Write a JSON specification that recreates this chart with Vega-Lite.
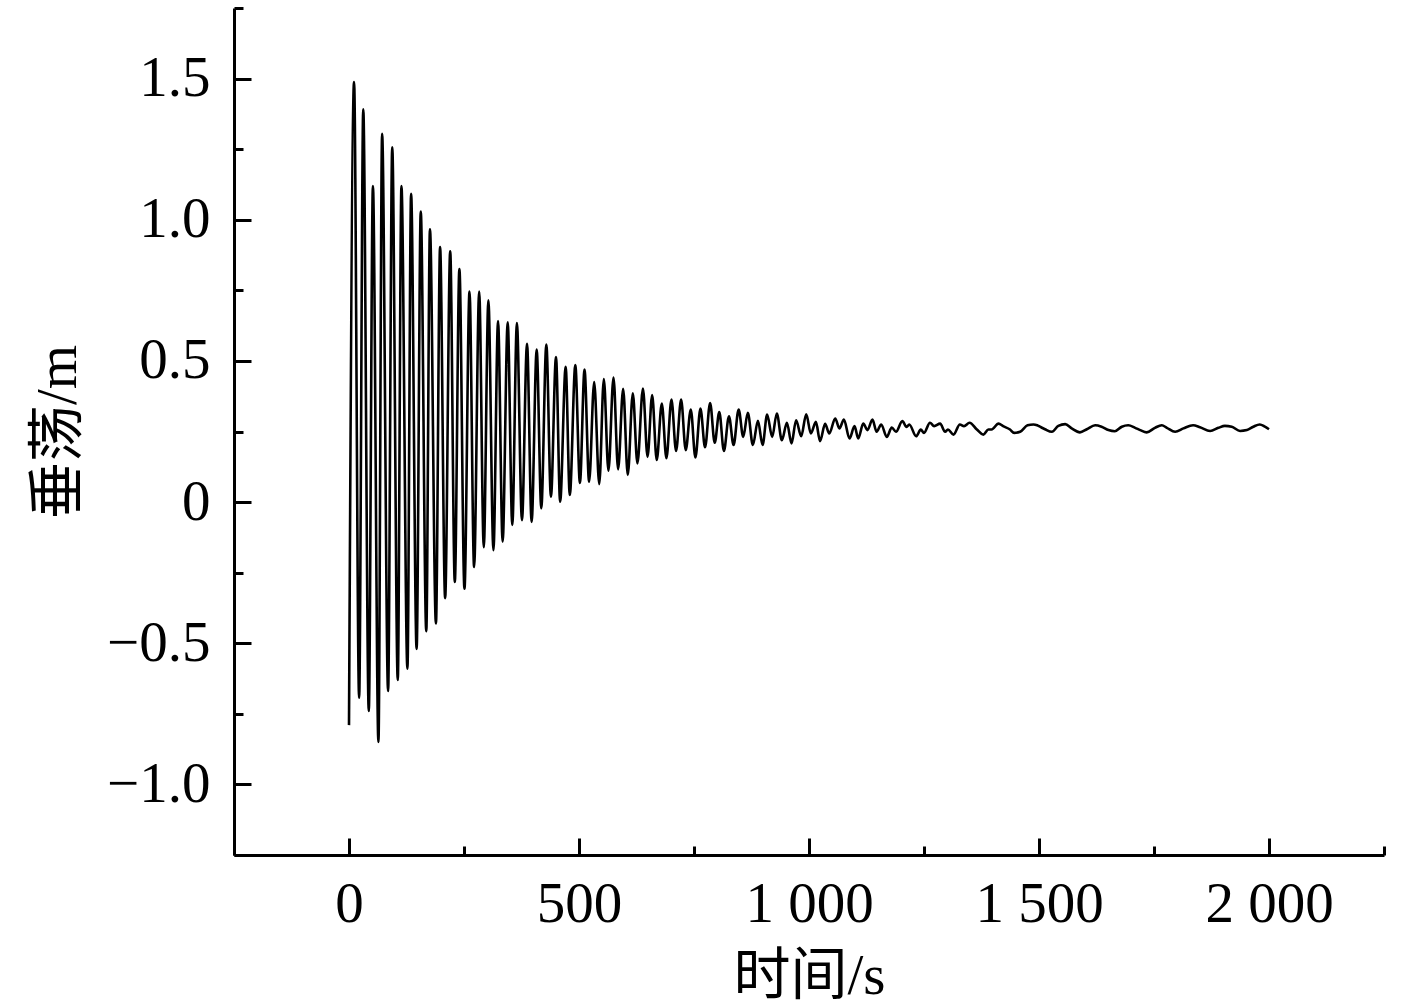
{
  "$schema": "https://vega.github.io/schema/vega-lite/v6.json",
  "width": 1150,
  "height": 847,
  "autosize": "none",
  "padding": {"left": 234, "top": 8, "right": 33, "bottom": 149},
  "background": "white",
  "config": {"view": {"stroke": null}, "axis": {"grid": false}},
  "data": {"values": [
    {"t":0,"v":-0.79},{"t":11,"v":1.488},{"t":22,"v":-0.693},{"t":31,"v":1.391},{"t":43,"v":-0.74},{"t":52,"v":1.119},{"t":64,"v":-0.85},{"t":72,"v":1.304},{"t":85,"v":-0.669},{"t":94,"v":1.257},
    {"t":106,"v":-0.63},{"t":114,"v":1.119},{"t":127,"v":-0.59},{"t":135,"v":1.092},{"t":147,"v":-0.52},{"t":156,"v":1.029},{"t":168,"v":-0.457},{"t":176,"v":0.966},{"t":189,"v":-0.43},{"t":198,"v":0.903},
    {"t":209,"v":-0.34},{"t":220,"v":0.888},{"t":230,"v":-0.283},{"t":240,"v":0.825},{"t":251,"v":-0.307},{"t":262,"v":0.746},{"t":272,"v":-0.23},{"t":283,"v":0.746},{"t":293,"v":-0.16},{"t":303,"v":0.715},
    {"t":314,"v":-0.17},{"t":324,"v":0.641},{"t":334,"v":-0.14},{"t":345,"v":0.637},{"t":355,"v":-0.081},{"t":365,"v":0.634},{"t":376,"v":-0.064},{"t":387,"v":0.561},{"t":397,"v":-0.07},{"t":408,"v":0.54},
    {"t":418,"v":-0.022},{"t":429,"v":0.558},{"t":439,"v":0.019},{"t":450,"v":0.514},{"t":459,"v":0.001},{"t":471,"v":0.479},{"t":480,"v":0.025},{"t":492,"v":0.485},{"t":502,"v":0.068},{"t":512,"v":0.469},
    {"t":522,"v":0.072},{"t":533,"v":0.425},{"t":544,"v":0.064},{"t":554,"v":0.436},{"t":564,"v":0.111},{"t":575,"v":0.441},{"t":585,"v":0.116},{"t":596,"v":0.401},{"t":606,"v":0.096},{"t":617,"v":0.385},
    {"t":627,"v":0.137},{"t":639,"v":0.402},{"t":649,"v":0.16},{"t":659,"v":0.379},{"t":669,"v":0.149},{"t":680,"v":0.349},{"t":690,"v":0.155},{"t":701,"v":0.363},{"t":711,"v":0.181},{"t":722,"v":0.363},
    {"t":732,"v":0.184},{"t":743,"v":0.328},{"t":753,"v":0.158},{"t":764,"v":0.331},{"t":774,"v":0.194},{"t":785,"v":0.351},{"t":795,"v":0.21},{"t":805,"v":0.319},{"t":815,"v":0.181},{"t":826,"v":0.304},
    {"t":836,"v":0.202},{"t":847,"v":0.328},{"t":857,"v":0.231},{"t":867,"v":0.316},{"t":878,"v":0.202},{"t":889,"v":0.288},{"t":899,"v":0.202},{"t":909,"v":0.31},{"t":920,"v":0.231},{"t":930,"v":0.314},
    {"t":941,"v":0.219},{"t":952,"v":0.281},{"t":962,"v":0.208},{"t":972,"v":0.29},{"t":983,"v":0.233},{"t":994,"v":0.311},{"t":1004,"v":0.243},{"t":1015,"v":0.284},{"t":1024,"v":0.216},{"t":1035,"v":0.277},
    {"t":1044,"v":0.243},{"t":1057,"v":0.296},{"t":1066,"v":0.261},{"t":1076,"v":0.292},{"t":1088,"v":0.225},{"t":1099,"v":0.269},{"t":1107,"v":0.225},{"t":1118,"v":0.278},{"t":1127,"v":0.255},{"t":1138,"v":0.292},
    {"t":1147,"v":0.249},{"t":1157,"v":0.275},{"t":1169,"v":0.231},{"t":1180,"v":0.264},{"t":1189,"v":0.249},{"t":1203,"v":0.287},{"t":1212,"v":0.266},{"t":1218,"v":0.275},{"t":1233,"v":0.233},{"t":1243,"v":0.257},
    {"t":1250,"v":0.245},{"t":1263,"v":0.281},{"t":1272,"v":0.269},{"t":1285,"v":0.278},{"t":1296,"v":0.249},{"t":1302,"v":0.257},{"t":1314,"v":0.239},{"t":1328,"v":0.275},{"t":1337,"v":0.269},{"t":1349,"v":0.281},
    {"t":1365,"v":0.257},{"t":1379,"v":0.239},{"t":1390,"v":0.257},{"t":1397,"v":0.257},{"t":1412,"v":0.278},{"t":1422,"v":0.269},{"t":1437,"v":0.257},{"t":1446,"v":0.245},{"t":1459,"v":0.249},{"t":1475,"v":0.272},
    {"t":1488,"v":0.275},{"t":1496,"v":0.272},{"t":1502,"v":0.267},{"t":1513,"v":0.258},{"t":1528,"v":0.249},{"t":1542,"v":0.27},{"t":1557,"v":0.276},{"t":1571,"v":0.261},{"t":1589,"v":0.247},{"t":1604,"v":0.258},
    {"t":1622,"v":0.272},{"t":1636,"v":0.267},{"t":1651,"v":0.255},{"t":1665,"v":0.251},{"t":1680,"v":0.267},{"t":1694,"v":0.272},{"t":1709,"v":0.263},{"t":1720,"v":0.255},{"t":1734,"v":0.247},{"t":1752,"v":0.263},
    {"t":1767,"v":0.272},{"t":1778,"v":0.263},{"t":1796,"v":0.249},{"t":1814,"v":0.261},{"t":1835,"v":0.272},{"t":1850,"v":0.265},{"t":1872,"v":0.252},{"t":1890,"v":0.263},{"t":1904,"v":0.27},{"t":1919,"v":0.267},
    {"t":1937,"v":0.252},{"t":1952,"v":0.255},{"t":1966,"v":0.267},{"t":1980,"v":0.275},{"t":1991,"v":0.267},{"t":2000,"v":0.258}
  ]},
  "layer": [
    {
      "mark": {"type": "line", "color": "black", "strokeWidth": 2.6, "interpolate": "monotone"},
      "encoding": {
        "x": {
          "field": "t", "type": "quantitative",
          "scale": {"domain": [-250, 2250], "nice": false, "zero": false},
          "axis": {
            "orient": "bottom", "values": [0, 500, 1000, 1500, 2000], "title": "时间/s",
            "tickSize": -17, "tickWidth": 3, "tickColor": "black",
            "domainWidth": 3, "domainColor": "black",
            "labelFont": "Liberation Serif", "labelFontSize": 57, "labelColor": "black",
            "labelPadding": 38, "labelFlush": false, "labelOverlap": false,
            "labelExpr": "replace(format(datum.value, ','), ',', ' ')",
            "titleFont": "Liberation Serif, Noto Sans CJK SC", "titleFontSize": 57, "titleFontWeight": "normal",
            "titleColor": "black", "titlePadding": 16
          }
        },
        "y": {
          "field": "v", "type": "quantitative",
          "scale": {"domain": [-1.25, 1.75], "nice": false, "zero": false},
          "axis": {
            "orient": "left", "values": [-1, -0.5, 0, 0.5, 1, 1.5], "title": "垂荡/m",
            "tickSize": -17, "tickWidth": 3, "tickColor": "black",
            "domainWidth": 3, "domainColor": "black",
            "labelFont": "Liberation Serif", "labelFontSize": 57, "labelColor": "black",
            "labelPadding": 41, "labelFlush": false, "labelOverlap": false,
            "labelExpr": "datum.value == 0 ? '0' : format(datum.value, '.1f')",
            "titleFont": "Liberation Serif, Noto Sans CJK SC", "titleFontSize": 57, "titleFontWeight": "normal",
            "titleColor": "black", "titlePadding": 19
          }
        }
      }
    },
    {
      "mark": {"type": "line", "opacity": 0},
      "encoding": {
        "x": {
          "field": "t", "type": "quantitative",
          "axis": {
            "orient": "bottom", "values": [-250, 250, 750, 1250, 1750, 2250], "title": null,
            "labels": false, "domain": false,
            "tickSize": -9, "tickWidth": 3, "tickColor": "black"
          }
        },
        "y": {
          "field": "v", "type": "quantitative",
          "axis": {
            "orient": "left", "values": [-1.25, -0.75, -0.25, 0.25, 0.75, 1.25, 1.75], "title": null,
            "labels": false, "domain": false,
            "tickSize": -9, "tickWidth": 3, "tickColor": "black"
          }
        }
      }
    }
  ],
  "resolve": {"axis": {"x": "independent", "y": "independent"}}
}
